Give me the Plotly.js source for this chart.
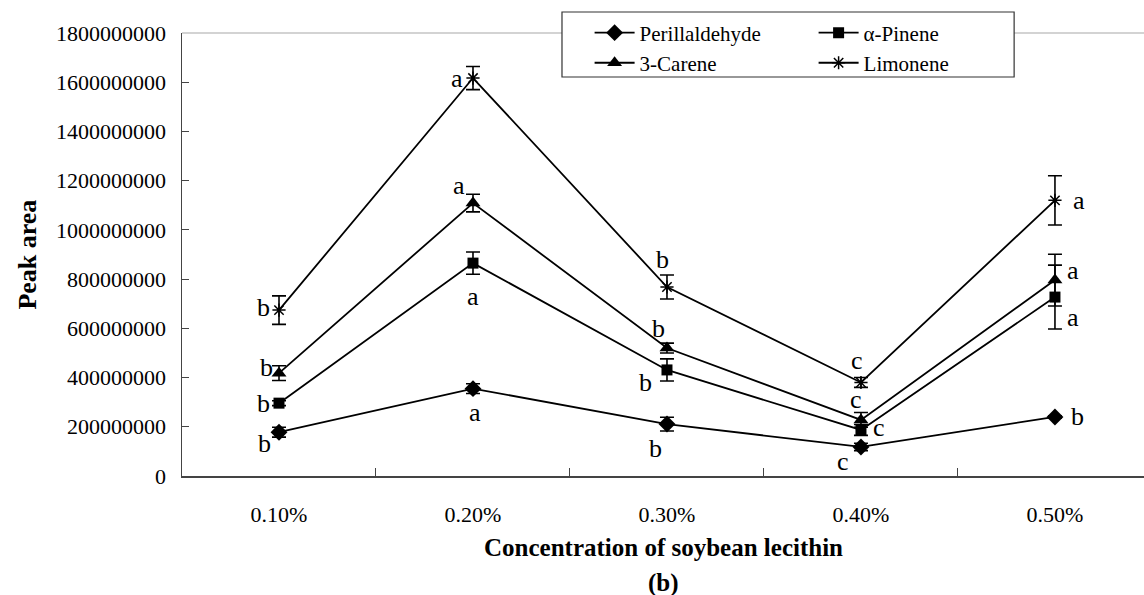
<!DOCTYPE html>
<html>
<head>
<meta charset="utf-8">
<script src="https://cdn.plot.ly/plotly-3.0.1.min.js"></script>
<style>html,body{margin:0;padding:0;background:#fff;}#chart{width:1144px;height:595px;}</style>
</head>
<body>
<div id="chart"></div>
<script>
// ---- data ----
const categories = ["0.10%", "0.20%", "0.30%", "0.40%", "0.50%"];
const seriesNames = ["Perillaldehyde", "α-Pinene", "3-Carene", "Limonene"];
const perillaldehyde = [178e6, 355e6, 211e6, 118e6, 240e6];
const perillaldehydeErr = [20e6, 20e6, 28e6, 15e6, 5e6];
const pinene = [296e6, 865e6, 431e6, 187e6, 727e6];
const pineneErr = [10e6, 45e6, 45e6, 22e6, 130e6];
const carene = [418e6, 1109e6, 520e6, 228e6, 796e6];
const careneErr = [30e6, 36e6, 20e6, 30e6, 105e6];
const limonene = [674e6, 1617e6, 768e6, 380e6, 1120e6];
const limoneneErr = [58e6, 47e6, 49e6, 20e6, 100e6];
const perillaldehydeLetters = ["b", "a", "b", "c", "b"];
const pineneLetters = ["b", "a", "b", "c", "a"];
const careneLetters = ["b", "a", "b", "c", "a"];
const limoneneLetters = ["b", "a", "b", "c", "a"];
const yTicks = [0, 200e6, 400e6, 600e6, 800e6, 1000e6, 1200e6, 1400e6, 1600e6, 1800e6];

// ---- styling ----
const FONT = "Liberation Serif";
const values = [perillaldehyde, pinene, carene, limonene];
const errors = [perillaldehydeErr, pineneErr, careneErr, limoneneErr];
const letters = [perillaldehydeLetters, pineneLetters, careneLetters, limoneneLetters];
const symbols = ["diamond", "square", "triangle-up", "asterisk-open"];
const sizes = [13, 11, 13, 11];
const legends = ["legend", "legend", "legend2", "legend2"];
// pixel offsets of significance letters from their points [dx, dy(down positive)]
const letterOffsets = [
  [[-15, 11], [2, 24], [-11, 24], [-18, 15], [23, 0]],
  [[-16, 0], [0, 33], [-21, 13], [18, -2], [18, 20]],
  [[-13, -6], [-14, -18], [-8, -20], [-5, -20], [18, -10]],
  [[-16, -3], [-16, 0], [-4, -27], [-4, -22], [24, 0]]
];

const traces = values.map((v, i) => ({
  type: "scatter",
  mode: "lines+markers",
  name: seriesNames[i],
  x: categories,
  y: v,
  legend: legends[i],
  line: {color: "#000", width: 1.8},
  marker: {symbol: symbols[i], size: sizes[i], color: "#000",
           line: {color: "#000", width: i === 3 ? 1.5 : 0}},
  error_y: {type: "data", array: errors[i], visible: true, color: "#000", thickness: 1.6, width: 7},
  hoverinfo: "x+y"
}));

const annotations = [];
values.forEach((v, i) => {
  v.forEach((val, j) => {
    annotations.push({
      x: categories[j], y: val, xref: "x", yref: "y",
      text: letters[i][j], showarrow: false,
      xanchor: "center", yanchor: "middle",
      xshift: letterOffsets[i][j][0], yshift: -letterOffsets[i][j][1],
      font: {family: FONT, size: 26, color: "#000"}
    });
  });
});
annotations.push({
  text: "<b>Concentration of soybean lecithin</b>", xref: "paper", yref: "paper",
  x: 0.5, y: -0.1625, xanchor: "center", yanchor: "middle", showarrow: false,
  font: {family: FONT, size: 25, color: "#000"}
});
annotations.push({
  text: "<b>(b)</b>", xref: "paper", yref: "paper",
  x: 0.5, y: -0.2415, xanchor: "center", yanchor: "middle", showarrow: false,
  font: {family: FONT, size: 25, color: "#000"}
});
annotations.push({
  text: "<b>Peak area</b>", xref: "paper", yref: "paper",
  x: -0.161, y: 0.5, xanchor: "center", yanchor: "middle", textangle: -90, showarrow: false,
  font: {family: FONT, size: 26, color: "#000"}
});

const layout = {
  width: 1144, height: 595,
  margin: {l: 182, r: 0, t: 33, b: 119},
  paper_bgcolor: "#fff", plot_bgcolor: "#fff",
  font: {family: FONT, color: "#000"},
  showlegend: true,
  xaxis: {
    type: "category", range: [-0.5, 4.459], tickson: "boundaries",
    ticks: "inside", ticklen: 8, tickwidth: 1, tickcolor: "#444",
    showline: true, linecolor: "#444", linewidth: 1.5,
    showgrid: false, zeroline: false,
    tickfont: {family: FONT, size: 22, color: "#000"}, ticklabelstandoff: 18,
    fixedrange: true
  },
  yaxis: {
    range: [0, 1800e6], tickvals: yTicks, tickformat: "d",
    ticks: "inside", ticklen: 7, tickwidth: 1, tickcolor: "#444",
    showline: true, linecolor: "#444", linewidth: 1.5,
    showgrid: false, zeroline: false,
    tickfont: {family: FONT, size: 22, color: "#000"}, ticklabelstandoff: 10,
    fixedrange: true
  },
  legend: {
    orientation: "h", x: 0.4237, xanchor: "left", y: 1.0, yanchor: "middle",
    entrywidth: 169, entrywidthmode: "pixels", itemwidth: 40,
    bgcolor: "rgba(0,0,0,0)", borderwidth: 0,
    font: {family: FONT, size: 21, color: "#000"}
  },
  legend2: {
    orientation: "h", x: 0.4237, xanchor: "left", y: 0.932, yanchor: "middle",
    entrywidth: 169, entrywidthmode: "pixels", itemwidth: 40,
    bgcolor: "rgba(0,0,0,0)", borderwidth: 0,
    font: {family: FONT, size: 21, color: "#000"}
  },
  shapes: [
    {type: "line", xref: "paper", yref: "paper", x0: 0, x1: 1, y0: 1, y1: 1,
     line: {color: "#c4c4c4", width: 1.5}, layer: "above"},
    {type: "rect", xref: "paper", yref: "paper", x0: 0.395, x1: 0.865, y0: 0.9007, y1: 1.0474,
     fillcolor: "#fff", line: {color: "#333", width: 1.2}, layer: "above"}
  ],
  annotations: annotations
};

Plotly.newPlot("chart", traces, layout, {displayModeBar: false, staticPlot: true});
</script>
</body>
</html>
